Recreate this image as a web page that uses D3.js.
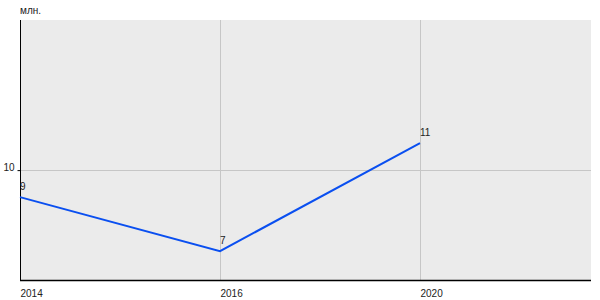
<!DOCTYPE html>
<html>
<head>
<meta charset="utf-8">
<script src="https://cdn.jsdelivr.net/npm/d3@7"></script>
<style>
  body { margin: 0; background: #fff; }
  text { font-family: "Liberation Sans", Arial, sans-serif; font-size: 10px; fill: #222; }
</style>
</head>
<body>
<svg id="chart" width="600" height="300"></svg>
<script>
var years = ["2014", "2016", "2020"];
var values = [9, 7, 11];
var yTicks = [10];
var unitLabel = "млн.";

var svg = d3.select("#chart");
// note: "top" is a read-only global in the browser, so use plot* names
var plotLeft = 20, plotRight = 591, plotTop = 20, plotBottom = 280;

var x = d3.scalePoint().domain(years).range([plotLeft, 420]);
var y = d3.scaleLinear().domain([5.93, 15.56]).range([plotBottom, plotTop]);

// plot background
svg.append("rect")
    .attr("x", plotLeft).attr("y", plotTop)
    .attr("width", plotRight - plotLeft).attr("height", plotBottom - plotTop)
    .attr("fill", "#ebebeb");

// grid
svg.append("g").selectAll("line")
    .data(years.slice(1))
    .enter().append("line")
    .attr("x1", function(d) { return x(d) + 0.5; })
    .attr("x2", function(d) { return x(d) + 0.5; })
    .attr("y1", plotTop).attr("y2", plotBottom)
    .attr("stroke", "#c6c6c6");

svg.append("g").selectAll("line")
    .data(yTicks)
    .enter().append("line")
    .attr("x1", plotLeft).attr("x2", plotRight)
    .attr("y1", function(d) { return Math.round(y(d)) + 0.5; })
    .attr("y2", function(d) { return Math.round(y(d)) + 0.5; })
    .attr("stroke", "#c6c6c6");

// y axis
var yAxis = d3.axisLeft(y).tickValues(yTicks).tickSize(3).tickPadding(3);
var gy = svg.append("g").attr("transform", "translate(" + (plotLeft + 0.5) + ",0)").call(yAxis);
gy.select(".domain").attr("stroke", "#000").attr("d", "M0," + plotTop + "V" + plotBottom);
gy.selectAll(".tick line").attr("stroke", "#000");
gy.selectAll("text").attr("dy", "0.05em")
    .attr("font-size", 10).attr("font-family", "Liberation Sans, Arial, sans-serif").attr("fill", "#222");

// x axis
var xAxis = d3.axisBottom(x).tickSize(0).tickPadding(9);
var gx = svg.append("g").attr("transform", "translate(0," + (plotBottom + 0.5) + ")").call(xAxis);
gx.select(".domain").attr("stroke", "#000").attr("stroke-width", 1.5).attr("d", "M" + plotLeft + ",0H" + plotRight);
gx.selectAll("text").attr("text-anchor", "start")
    .attr("font-size", 10).attr("font-family", "Liberation Sans, Arial, sans-serif").attr("fill", "#222");

// unit label
svg.append("text").attr("x", plotLeft).attr("y", 14).text(unitLabel);

// line
var line = d3.line()
    .x(function(d, i) { return x(years[i]); })
    .y(function(d) { return y(d); });

svg.append("path")
    .datum(values)
    .attr("d", line)
    .attr("fill", "none")
    .attr("stroke", "#0a4ff0")
    .attr("stroke-width", 2);

// value labels
svg.append("g").selectAll("text")
    .data(values)
    .enter().append("text")
    .attr("x", function(d, i) { return x(years[i]); })
    .attr("y", function(d) { return y(d) - 7; })
    .text(function(d) { return d; });
</script>
</body>
</html>
